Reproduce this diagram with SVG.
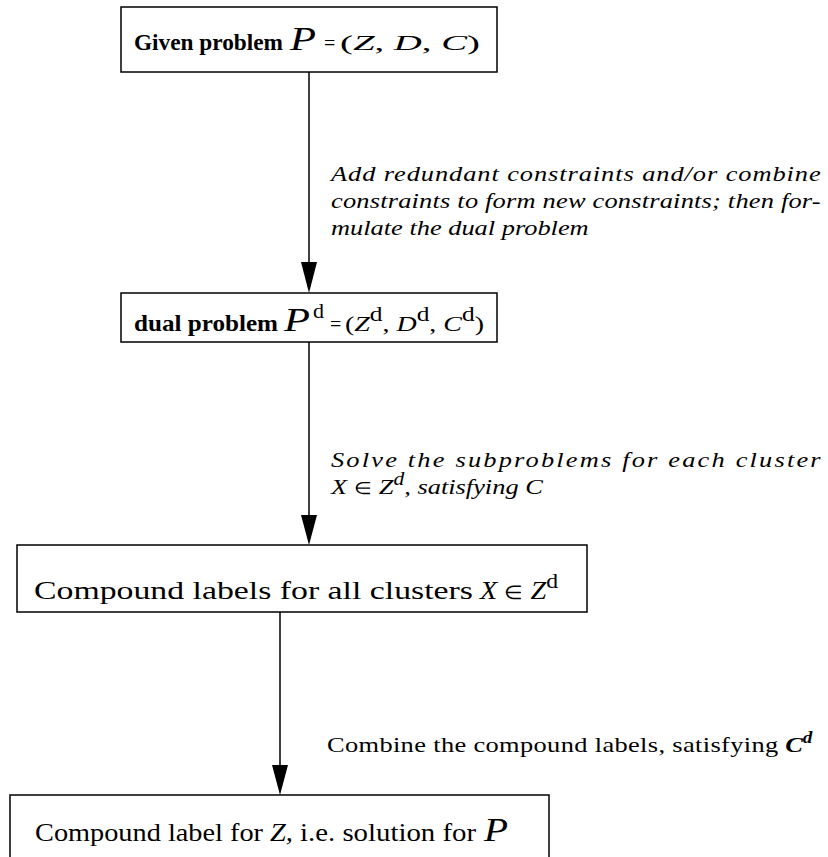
<svg xmlns="http://www.w3.org/2000/svg" width="828" height="857" viewBox="0 0 828 857">
<style>
.box{fill:#fff;stroke:#000;stroke-width:1.5}
.conn{stroke:#000;stroke-width:1.5;fill:none}
.head{fill:#000}
text{font-family:"Liberation Serif","Times New Roman",serif;fill:#000}
.b{font-weight:bold;font-size:24px}
.r{font-size:26px}
.i{font-style:italic}
.lab{font-style:italic;font-size:22px}
.lab2{font-size:22px}
.big{font-size:34px;font-style:italic}
.el{font-style:normal;font-size:17px}
</style>
<g id="connectors">
<line class="conn" x1="309" y1="72" x2="309" y2="265"/>
<polygon class="head" points="301,262 317,262 309,293"/>
<line class="conn" x1="309" y1="342" x2="309" y2="518"/>
<polygon class="head" points="301,515 317,515 309,545"/>
<line class="conn" x1="280" y1="612" x2="280" y2="768"/>
<polygon class="head" points="272,765 288,765 280,795"/>
<text class="lab" transform="matrix(1.2,0,0,1,331,181)" textLength="408" lengthAdjust="spacing">Add redundant constraints and/or combine</text>
<text class="lab" transform="matrix(1.2,0,0,1,331,208)" textLength="408" lengthAdjust="spacing">constraints to form new constraints; then for-</text>
<text class="lab" transform="matrix(1.2,0,0,1,331,235)">mulate the dual problem</text>
<text class="lab" transform="matrix(1.2,0,0,1,331,467)" textLength="408" lengthAdjust="spacing">Solve the subproblems for each cluster</text>
<text class="lab" transform="matrix(1.2,0,0,1,331,494)">X <tspan class="el">∈</tspan> Z<tspan dy="-9" font-size="18">d</tspan><tspan dy="9">, satisfying C</tspan></text>
<text class="lab2" transform="matrix(1.2,0,0,1,327,752)"><tspan textLength="376" lengthAdjust="spacing">Combine the compound labels, satisfying</tspan> <tspan font-style="italic" font-weight="bold">C</tspan><tspan font-style="italic" font-weight="bold" dy="-9" font-size="16">d</tspan></text>
</g>
<g id="node1">
<rect class="box" x="121" y="7" width="376" height="65"/>
<text class="b" x="134" y="50" textLength="149" lengthAdjust="spacingAndGlyphs">Given problem</text>
<text class="big" x="290" y="50" textLength="26" lengthAdjust="spacingAndGlyphs">P</text>
<text font-size="20" x="324" y="50">=</text>
<text font-size="22" x="340" y="50" textLength="140" lengthAdjust="spacingAndGlyphs">(<tspan font-style="italic">Z</tspan>,  <tspan font-style="italic">D</tspan>,  <tspan font-style="italic">C</tspan>)</text>
</g>
<g id="node2">
<rect class="box" x="121" y="293" width="376" height="49"/>
<text class="b" x="134" y="331" textLength="144" lengthAdjust="spacingAndGlyphs">dual problem</text>
<text class="big" x="284" y="331" textLength="26" lengthAdjust="spacingAndGlyphs">P</text>
<text font-size="22" x="313" y="318">d</text>
<text font-size="20" x="330" y="331">=</text>
<text font-size="22" x="345" y="331" textLength="139" lengthAdjust="spacingAndGlyphs">(<tspan font-style="italic">Z</tspan><tspan dy="-10" font-size="20">d</tspan><tspan dy="10">, </tspan><tspan font-style="italic">D</tspan><tspan dy="-10" font-size="20">d</tspan><tspan dy="10">, </tspan><tspan font-style="italic">C</tspan><tspan dy="-10" font-size="20">d</tspan><tspan dy="10">)</tspan></text>
</g>
<g id="node3">
<rect class="box" x="17" y="545" width="570" height="67"/>
<text class="r" x="34" y="599" textLength="439" lengthAdjust="spacingAndGlyphs">Compound labels for all clusters</text>
<text font-size="25" x="480" y="599" textLength="78" lengthAdjust="spacingAndGlyphs"><tspan font-style="italic">X</tspan> <tspan font-size="19">∈</tspan>  <tspan font-style="italic">Z</tspan><tspan dy="-11" font-size="21">d</tspan></text>
</g>
<g id="node4">
<rect class="box" x="10" y="795" width="539" height="80"/>
<text class="r" x="35" y="841" textLength="228" lengthAdjust="spacingAndGlyphs">Compound label for</text>
<text class="r i" x="270" y="841" textLength="23" lengthAdjust="spacingAndGlyphs">Z,</text>
<text class="r" x="300" y="841" textLength="176" lengthAdjust="spacingAndGlyphs">i.e. solution for</text>
<text class="big" x="484" y="841" textLength="24" lengthAdjust="spacingAndGlyphs">P</text>
</g>
</svg>
